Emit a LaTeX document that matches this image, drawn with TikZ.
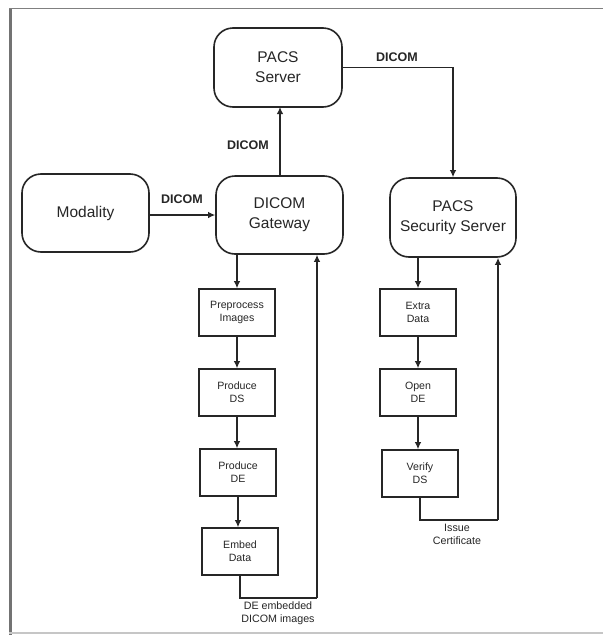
\documentclass[tikz,border=0pt]{standalone}
\usepackage{fontspec}
\setmainfont{Liberation Sans}
\usetikzlibrary{arrows.meta}
\definecolor{ink}{HTML}{262626}
\begin{document}
\begin{tikzpicture}[x=1pt,y=-1pt,
  bigbox/.style={draw=ink,line width=1.6pt,rounded corners=19pt,align=center,
    font=\fontsize{15.5}{20}\selectfont,text=ink,inner sep=0pt},
  smallbox/.style={draw=ink,line width=1.6pt,align=center,minimum width=76pt,
    minimum height=47pt,font=\fontsize{10.6}{13}\selectfont,text=ink,inner sep=0pt},
  flow/.style={draw=ink,line width=1.3pt,-{Latex[length=7pt,width=6.5pt]}},
  link/.style={draw=ink,line width=1.3pt},
  tag/.style={font=\bfseries\fontsize{12.5}{15}\selectfont,text=ink},
  note/.style={font=\fontsize{10.7}{13}\selectfont,text=ink,align=center}]
% canvas and frame
\useasboundingbox (0,0) rectangle (603,635);
\fill[white] (0,0) rectangle (603,635);
\draw[line width=3pt,color=gray!90!black] (10.5,8) -- (10.5,635);
\draw[line width=1.6pt,color=gray] (9,8.5) -- (603,8.5);
\draw[line width=1.2pt,color=gray!45] (9,633) -- (603,633);

% main blocks
\node[bigbox,minimum width=128pt,minimum height=79pt] (srv) at (278,67.5) {PACS\\Server};
\node[bigbox,minimum width=127pt,minimum height=78pt] (gw) at (279.5,215) {DICOM\\Gateway};
\node[bigbox,minimum width=127pt,minimum height=78pt] (mod) at (85.5,213) {Modality};
\node[bigbox,minimum width=126pt,minimum height=79pt] (sec) at (453,217.5) {PACS\\Security Server};

% gateway processing chain
\node[smallbox] (pre) at (237,312.5) {Preprocess\\Images};
\node[smallbox] (pds) at (237,392.5) {Produce\\DS};
\node[smallbox] (pde) at (238,472.5) {Produce\\DE};
\node[smallbox] (emb) at (240,551.5) {Embed\\Data};

% security server chain
\node[smallbox] (ext) at (418,312.5) {Extra\\Data};
\node[smallbox] (ode) at (418,392.5) {Open\\DE};
\node[smallbox] (vds) at (420,473.5) {Verify\\DS};

% return points
\coordinate (ret) at (317,598);
\coordinate (cert) at (498,520);

% DICOM transfers
\draw[flow] (mod.east |- 0,215) -- (gw.west |- 0,215);
\draw[flow] (280,176) -- (280,107);
\draw[flow] (srv.east) -| (sec.north);

% gateway chain arrows
\draw[flow] (pre.north |- gw.south) -- (pre.north);
\draw[flow] (pre.south) -- (pre.south |- pds.north);
\draw[flow] (pds.south) -- (pds.south |- pde.north);
\draw[flow] (pde.south) -- (pde.south |- emb.north);
\draw[link] (emb.south) |- (ret);
\draw[flow] (ret) -- (ret |- gw.south);

% security chain arrows
\draw[flow] (ext.north |- sec.south) -- (ext.north);
\draw[flow] (ext.south) -- (ext.south |- ode.north);
\draw[flow] (ode.south) -- (ode.south |- vds.north);
\draw[link] (vds.south) |- (cert);
\draw[flow] (cert) -- (cert |- sec.south);

% labels
\node[tag] (t1) at (182,199) {DICOM};
\node[tag] (t2) at (248,145) {DICOM};
\node[tag] (t3) at (397,57) {DICOM};
\node[note] (n1) at (278,613.5) {DE embedded\\DICOM images};
\node[note] (n2) at (457,534.5) {Issue\\Certificate};
\end{tikzpicture}
\end{document}
